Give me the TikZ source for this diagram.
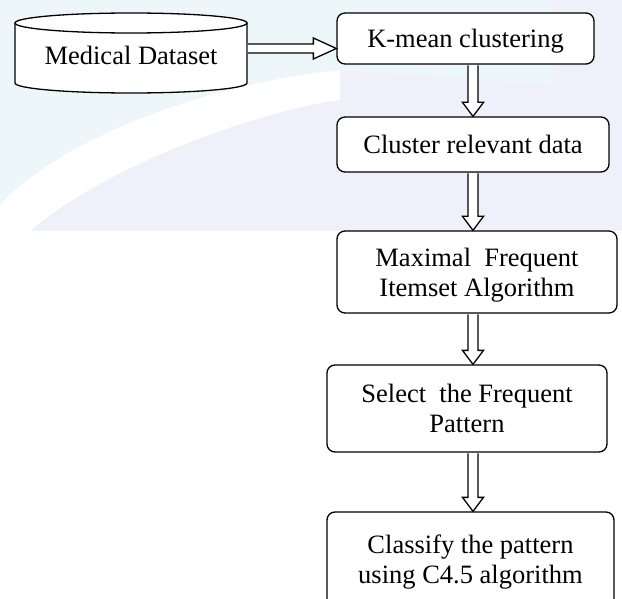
\documentclass[tikz,border=0pt]{standalone}
\usepackage{fontspec}
\setmainfont{Liberation Serif}
\usetikzlibrary{calc}
\definecolor{bgcyan}{RGB}{237,247,249}
\definecolor{bglav}{RGB}{240,240,251}
\tikzset{
  lw/.style={line width=1.3pt},
  txt/.style={font=\fontsize{26.5}{30}\selectfont, align=center, inner sep=0pt},
  box/.style={txt, draw, lw, fill=white, rounded corners=8pt},
  varrow/.style={draw, lw, fill=white, line join=miter,
    to path={($(\tikztostart)+(-5,0.65)$) -- ($(\tikztotarget)+(-5,-14)$)
      -- ($(\tikztotarget)+(-10.5,-14)$) -- (\tikztotarget)
      -- ($(\tikztotarget)+(10.5,-14)$) -- ($(\tikztotarget)+(5,-14)$)
      -- ($(\tikztostart)+(5,0.65)$)}},
  harrow/.style={draw, lw, fill=white, line join=miter,
    to path={($(\tikztostart)+(0.65,-4.5)$) -- ($(\tikztotarget)+(-23,-4.5)$)
      -- ($(\tikztotarget)+(-23,-10.5)$) -- (\tikztotarget)
      -- ($(\tikztotarget)+(-23,10.5)$) -- ($(\tikztotarget)+(-23,4.5)$)
      -- ($(\tikztostart)+(0.65,4.5)$)}}
}
\begin{document}
\begin{tikzpicture}[x=1pt,y=-1pt]
\clip (0,0) rectangle (622,599);
% faint background watermark
\fill[bglav] (0,0) rectangle (622,231);
\fill[bgcyan] (0,0) -- (553,0) -- (553,85) -- (340,70)
  .. controls (200,85) and (60,140) .. (0,205) -- cycle;
\fill[white] (0,205) .. controls (60,140) and (200,85) .. (340,70)
  -- (340,100) .. controls (250,112) and (100,170) .. (30,231) -- (0,231) -- cycle;

% database cylinder
\filldraw[lw, fill=white] (15,23) -- (15,83)
  .. controls (15,88.52) and (66.93,93) .. (131,93)
  .. controls (195.07,93) and (247,88.52) .. (247,83) -- (247,23);
\draw[lw, fill=white] (131,23) ellipse [x radius=116, y radius=10];
\node[txt, minimum width=232pt, minimum height=60pt] (db) at (131,55) {Medical Dataset};

% process boxes
\node[box, text depth=0pt, minimum width=257pt, minimum height=51pt] (kmean) at (465.5,38.5) {K-mean clustering};
\node[box, minimum width=272pt, minimum height=55pt] (cluster) at (473,144.5) {Cluster relevant data};
\node[box, text depth=0pt, minimum width=280pt, minimum height=82pt] (maxfi) at (477,272) {Maximal\ \ Frequent\\Itemset Algorithm};
\node[box, minimum width=280pt, minimum height=87pt] (select) at (467,408.5) {Select\ \ the Frequent\\Pattern};
\node[box, minimum width=287pt, minimum height=100pt] (classify) at (470.5,562) {Classify the pattern\\using C4.5 algorithm};

% connector end points
\coordinate (ax) at (473,0);
\coordinate (hs) at ($(db.east)+(0,-6.5)$);
\coordinate (ht) at (kmean.west |- hs);
\coordinate (a1) at (kmean.south -| ax);
\coordinate (b1) at (cluster.north -| ax);
\coordinate (a2) at (cluster.south -| ax);
\coordinate (b2) at (maxfi.north -| ax);
\coordinate (a3) at (maxfi.south -| ax);
\coordinate (b3) at (select.north -| ax);
\coordinate (a4) at (select.south -| ax);
\coordinate (b4) at (classify.north -| ax);

\draw[harrow] (hs) to (ht);
\draw[varrow] (a1) to (b1);
\draw[varrow] (a2) to (b2);
\draw[varrow] (a3) to (b3);
\draw[varrow] (a4) to (b4);
\end{tikzpicture}
\end{document}
